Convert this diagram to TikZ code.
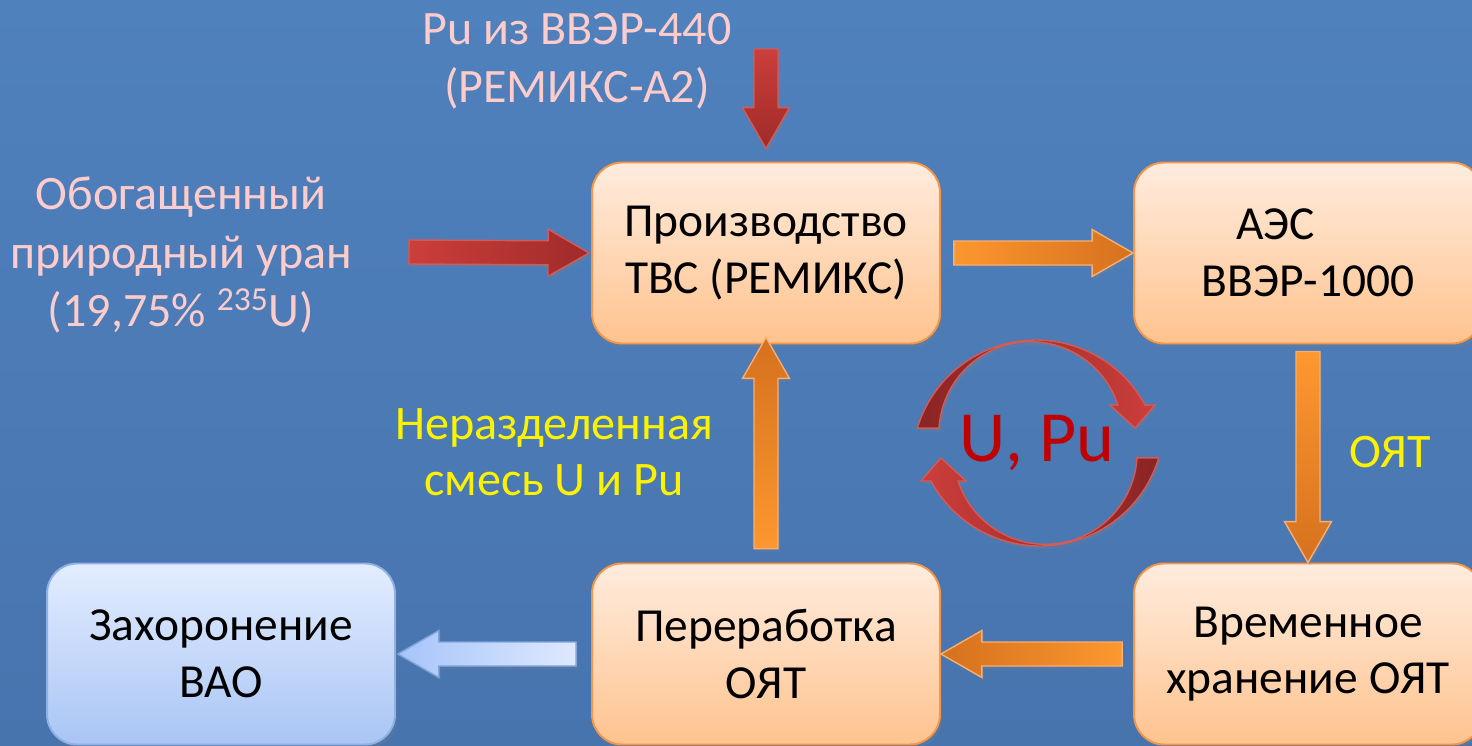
\documentclass[tikz,border=0pt]{standalone}
\usepackage{fontspec}
\setmainfont{Carlito}
\usepackage{tikz}
\usetikzlibrary{calc}
\usetikzlibrary{positioning}
\usetikzlibrary{shadows}

\definecolor{BgTop}{HTML}{4F81BD}
\definecolor{BgBottom}{HTML}{4874AE}
\definecolor{PeachTop}{HTML}{FFECDE}
\definecolor{PeachBottom}{HTML}{FFC38E}
\definecolor{PeachLine}{HTML}{F79646}
\definecolor{IceTop}{HTML}{E3EDFF}
\definecolor{IceBottom}{HTML}{A9C5F4}
\definecolor{IceLine}{HTML}{8EB2E8}
\definecolor{Rose}{HTML}{FFCCCC}
\definecolor{RedA}{HTML}{CC3E3B}
\definecolor{RedB}{HTML}{9F2B29}
\definecolor{RedLine}{HTML}{D35B57}
\definecolor{RedDark}{HTML}{8A2424}
\definecolor{OrA}{HTML}{FF9A30}
\definecolor{OrB}{HTML}{D5701E}
\definecolor{OrLine}{HTML}{FAAE70}
\definecolor{IceA}{HTML}{E3ECFF}
\definecolor{IceB}{HTML}{A6C4FA}
\definecolor{IceArrowLine}{HTML}{7FA6DE}
\definecolor{CycleRed}{HTML}{C00000}

\tikzset{
	shaft half/.store in=\shafthalf, shaft half=0.24cm,
	head half/.store in=\headhalf, head half=0.47cm,
	head length/.store in=\headlen, head length=0.82cm,
	tail gap/.store in=\tailgap, tail gap=0cm,
	tip gap/.store in=\tipgap, tip gap=0cm,
	blockarrow/.style={ % fat arrow, outline built from the two ends
		line width=0.8pt,
		drop shadow={opacity=0.25, shadow xshift=0.04cm, shadow yshift=-0.06cm},
		to path={
			($(\tikztostart)!\tailgap!(\tikztotarget)!\shafthalf!90:(\tikztotarget)$)
			-- ($(\tikztotarget)!\tipgap+\headlen!(\tikztostart)!\shafthalf!90:(\tikztotarget)$)
			-- ($(\tikztotarget)!\tipgap+\headlen!(\tikztostart)!\headhalf!90:(\tikztotarget)$)
			-- ($(\tikztotarget)!\tipgap!(\tikztostart)$)
			-- ($(\tikztotarget)!\tipgap+\headlen!(\tikztostart)!\headhalf!-90:(\tikztotarget)$)
			-- ($(\tikztotarget)!\tipgap+\headlen!(\tikztostart)!\shafthalf!-90:(\tikztotarget)$)
			-- ($(\tikztostart)!\tailgap!(\tikztotarget)!\shafthalf!-90:(\tikztotarget)$)
			-- cycle
		}
	},
	redarrow/.style={blockarrow, draw=RedLine},
	orarrow/.style={blockarrow, draw=OrLine},
	icearrow/.style={blockarrow, draw=IceArrowLine},
	box/.style={ % rounded step of the cycle
		rounded corners=0.6cm,
		minimum width=6.96cm,
		minimum height=3.62cm,
		line width=1.1pt,
		align=center,
		font=\fontsize{27}{32.2}\selectfont,
		drop shadow={opacity=0.25, shadow xshift=0.04cm, shadow yshift=-0.08cm}
	},
	peachbox/.style={box, draw=PeachLine, top color=PeachTop, bottom color=PeachBottom},
	icebox/.style={box, draw=IceLine, top color=IceTop, bottom color=IceBottom},
	rosetext/.style={Rose, align=center, inner sep=0pt, font=\fontsize{27.3}{33.2}\selectfont},
	yellowtext/.style={yellow, align=center, inner sep=0pt, font=\fontsize{27.4}{31.8}\selectfont}
}

\begin{document}
\begin{tikzpicture}[x=0.02cm, y=-0.02cm]
	% background
	\useasboundingbox (0,0) rectangle (1472,745);
	\shade[top color=BgTop, bottom color=BgBottom] (0,0) rectangle (1472,745);

	% Nodes
	\node[peachbox] (prod) at (766,253) {Производство\\ТВС (РЕМИКС)};
	\node[peachbox] (aes) at (1308,253) {АЭС\hspace*{1.3cm}\\ВВЭР-1000};
	\node[peachbox] (store) at (1308,654) {Временное\\хранение ОЯТ};
	\node[peachbox] (proc) at (766,654) {Переработка\\ОЯТ};
	\node[icebox] (waste) at (221,654) {Захоронение\\ВАО};

	% Labels
	\node[rosetext] (pu440) at (577,61) {Pu из ВВЭР-440\\(РЕМИКС-А2)};
	\node[rosetext] (uran) at (181,255) {Обогащенный\\природный уран\\(19,75\% \textsuperscript{235}U)};
	\node[yellowtext] (mix) at (554,452) {Неразделенная\\смесь U и Pu};
	\node[yellowtext] (oyat) at (1390,452) {ОЯТ};
	\node[CycleRed, anchor=base, inner sep=0pt, font=\fontsize{41}{49}\selectfont] (upu) at (1037,461) {U, Pu};

	\coordinate (puin) at (766,49);
	\coordinate (uin) at (409,252);

	% Arrows
	\shade[redarrow, top color=RedA, bottom color=RedB, tip gap=0.26cm] (puin) to (prod.north);
	\shade[redarrow, left color=RedA, right color=RedB, tip gap=0.04cm] (uin) to (prod.west);
	\shade[orarrow, left color=OrA, right color=OrB, tail gap=0.26cm] (prod.east) to (aes.west);
	\shade[orarrow, top color=OrA, bottom color=OrB, tail gap=0.14cm] (aes.south) to (store.north);
	\shade[orarrow, right color=OrA, left color=OrB, tail gap=0.22cm] (store.west) to (proc.east);
	\shade[orarrow, bottom color=OrA, top color=OrB, tail gap=0.28cm, tip gap=-0.14cm] (proc.north) to (prod.south);
	\shade[icearrow, right color=IceA, left color=IceB, tail gap=0.3cm, tip gap=0.04cm] (proc.west) to (waste.east);

	% U, Pu cycle
	\foreach \r/\ca/\cb in {0/RedDark/RedA, 180/RedA/RedDark} {
		\begin{scope}[shift={(1038,443)}, rotate=\r]
			\shade[left color=\ca, right color=\cb, draw=RedLine, line width=0.8pt,
				drop shadow={opacity=0.25, shadow xshift=0.04cm, shadow yshift=-0.06cm}]
				(-120.7,-14.8) arc[start angle=-163.2, end angle=-28.4, radius=124]
				-- (117,-38) -- (97,-15) -- (72,-38) -- (79.9,-38)
				arc[start angle=-18.1, end angle=-176.6, radius=91.8] -- cycle;
		\end{scope}
	}
\end{tikzpicture}
\end{document}
